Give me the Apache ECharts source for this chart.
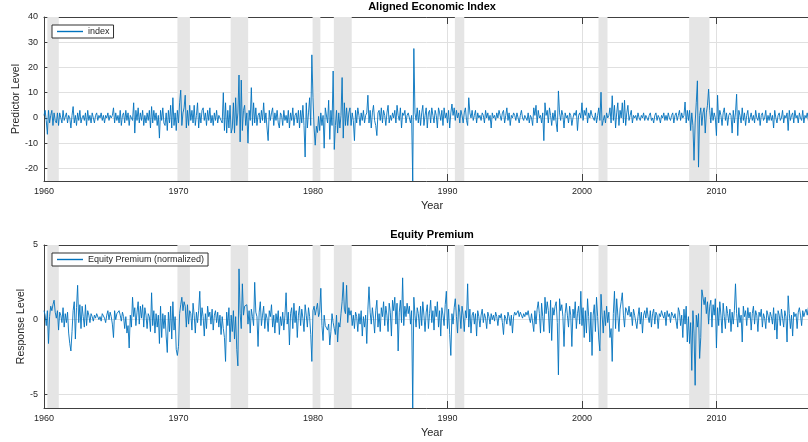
<!DOCTYPE html>
<html><head><meta charset="utf-8">
<script src="https://cdn.jsdelivr.net/npm/echarts@6/dist/echarts.min.js"></script>
<style>html,body{margin:0;padding:0;background:#fff}#c{width:808px;height:442px}</style>
</head><body><div id="c"></div>
<script>
const startYear = 1960;
// Aligned Economic Index, monthly (one row per year, Jan..Dec)
const indexValues = [
1, 3, -1, -6.5, 3, -2, 1, 3, -3, 2, -1, -2,
2, -3, 2, 0, -2, 3, -1, -1, 2, -2, 1, 0,
-4, 1, 4.5, -2, 1, -3, 2, -1, 3, -2, 0, 1,
-1, 2, -3, 3, -1, 1, -2, 2, 0, -2, 1, 2,
-1, 1, 0, 2, -1, 1, -2, 1, 0, 2, -1, 1,
0, 1, 4, -2, 2, -1, 1, -2, 3, -3, 1, 2,
-2, 3, -1, 2, -3, 1, 0, -1, 6, -6, 3, -1,
4, -2, 2, -1, 3, -3, 1, -2, 2, -1, 3, -4,
4.5, -2, 3, -1, 2, -3, 1, -8, 3, -1, 4, -2,
-3, 2, -5, 3, -2, 5, -4, 8, -3, 2, -5, 3,
-2, 6, 11, -3, 2, 4, 9, -4, 3, -3, 5, -1,
3, -2, 5, -3, 1, 6, -4, 2, -2, 3, 4, -1,
2, -3, 3, -1, 4, -2, 1, -3, 2, -1, 3, -2,
1, 0, -1, -2, 10, -5, 6, -6, 3, -4, 5, -6,
-4, 6, -6, 8, -3, 2, 17, -9.5, 15, -5, 3, 5,
-3, 2, -10, 3, -1, 12, -3, 6, -2, 4, -3, 1,
2, -2, 3, -1, 6, -2, 2, -4, -9, 3, -1, 2,
4, -3, 2, -1, 3, -2, -4, 2, 1, -3, 3, -1,
1, -2, 3, -4, 2, -1, 4, -3, 1, 2, -2, 3,
-4, 3, -2, 5, -3, -15.5, 6, -4, 2, 8, -3, 25,
8, -4, -10.8, -3.3, -5.8, 0.6, -5, 2, -3, 1, -12, 4,
4, -2, 7, -8.5, 3, -3, 18.6, -12.5, -3, 3, -6, 2,
-4, 1, 16, -8, 6, -3, 4, -3, 2, 4, -3, 2,
-1, -9, 3, -2, 4, 1, -3, 2, -1, 3, -2, 1,
2, 9, -2, 3, -4, 2, 5, -1, -3, -7, 2, 3,
-1, 4, -2, 3, 1, -3, 2, 5, -2, 1, -1, 2,
0, 3, -2, 5, 1, -1, 4, -4, 2, 1, 3, -2,
1, 2, 0, -2, 1, -25, 27.5, 2, -1, 4, -2, 3,
-3, 2, 5, -3, 1, 4, -4, 2, 3, -2, 4, 1,
-2, 3, 1, -4, 4, 2, -1, 3, -3, 4, 0, 2,
-2, 3, -4, 2, 5.5, 1, 4, -1, 3, 0, 2, -2,
3, 1, -2, 2, 4, -1, -3, 8, 2, 0, 3, -1,
1, 3, -2, 2, 0, 1, -1, 2, 1, -2, 3, 0,
2, -1, 1, -4, 2, 0, 1, -1, 2, 0, 3, 1,
-1, 2, 3, -2, 1, 4, -1, 2, -3, 1, 0, 2,
1, -1, 2, 0, -2, 1, 3, 0, -1, 1, 0, -1,
2, -2, 1, 0, -3, 4, 1, 5, -2, 3, 0, 1,
-2, 2, -9, 6, 1, 3, -2, 4, 1, -3, 2, -1,
3, -2, -5.5, 10.7, 2, -1, 3, 1, -4, 2, 0, 1,
-2, 2, 1, -3, 0, 2, 1, 3, -5, 1, 2, 0,
6, -1, 3, 1, 4, -2, 2, 0, 3, 1, 0, -1,
2, -2, 1, 4, -1, 10.2, -3, -1, 1, -2, 2, 0,
1, 4, -2, 8.8, -1, 5, -4, 2, 6, -3, 3, 0,
6, -2, 7, -3, 2, 5, -1, 1, 3, -2, 1, 0,
1, -1, 2, 0, -1, 1, 0, 2, -1, 1, 0, -1,
1, 2, -1, 0, -2, 1, 2, -1, 1, 0, -2, 1,
0, 2, -1, 1, -1, 2, 0, -1, 1, 2, -2, 1,
2, -1, 1, 3, -1, 2, 0, 1, 6.3, -2, 3, -1,
3, -5, 2, -3, -16.8, -2, 6, 14.7, -19.5, 1, 4, -3,
2, 4, -6, 2, 5, 11.4, 3, -2, 4, -1, 2, 0,
-7, 9, -2, 3, 1, -3, 2, 4, -1, 2, -3, 1,
2, 1, -6, 3, -2, 2, 9.4, -7, 3, 1, -2, 4,
-1, 2, -3, 1, 3, -2, 0, 2, -1, 1, -2, 3,
0, -1, 2, -3, 1, 2, -1, 0, 3, -2, 1, -1,
2, -1, 1, -4, 3, 0, -2, 1, 2, -1, 0, 3,
-2, 1, 0, 2, -5, 3, -1, 1, 2, -2, 3, 0,
1, -2, 2, 0, -1, 3, -2, 1, 0, 2, -1, 1
];
// Equity Premium (normalized), monthly
const equityValues = [
0.6, 0.3, -0.4, 0.6, -1.6, 0.2, 0.9, 0.6, 1.0, 1.3, 0.5, 0.1,
0.6, -0.7, 0.5, 0.3, -0.2, 0.8, -0.5, 0.4, -0.2, 0.5, -0.9, -1.6,
-2.1, -0.8, 0.6, 1.2, -1.3, 0.8, 2.3, -0.2, 1.0, -0.6, 0.9, 0.2,
-0.5, 1.0, -0.4, 0.6, 0.3, -0.2, 0.4, 0.2, -0.1, 0.3, 0.1, 0.4,
0.3, 0.0, 0.2, -0.1, 0.4, 0.5, 0.1, -0.2, 0.3, 0.6, 0.0, 0.5,
0.2, -0.3, -1.2, 0.6, 0.0, 0.4, 0.5, 0.6, 0.3, -0.1, 0.5, 0.2,
-0.6, 0.2, -0.9, -0.4, -1.9, 0.3, -0.5, 1.5, 0.2, 0.8, -0.4, 0.5,
1.2, -0.3, 0.9, 0.1, 1.0, -0.5, 0.8, 0.3, -0.6, 0.4, 0.2, -0.8,
1.8, -0.4, 0.6, -0.9, 0.4, -0.5, 0.3, -1.6, 0.9, -1.2, 0.4, -0.6,
0.3, -1.1, -2.2, 0.5, -0.8, 0.9, -1.3, 1.2, -0.7, 0.2, -2.0, -2.4,
-1.8, 0.4, 1.0, 1.5, 0.6, 1.2, 0.9, -0.5, 1.0, -0.3, 0.6, 0.4,
-0.7, 1.1, 0.3, -0.9, 0.5, -0.2, 0.6, 1.9, -0.4, 0.8, 0.2, -1.1,
0.4, -0.6, 0.9, 0.2, 0.5, -0.3, 0.7, -0.7, 0.3, 0.6, -0.2, 0.5,
-0.5, 0.3, -1.0, 0.2, -0.6, -1.2, -2.8, 0.5, -0.4, 0.8, -1.5, 0.3,
-0.8, 0.6, -1.3, 0.2, -2.0, -3.1, 3.4, 0.4, -0.6, 2.4, 0.3, 0.9,
0.8, 1.0, -0.3, 0.6, -0.9, 0.7, 0.2, -0.4, 2.5, 0.5, 0.2, -1.8,
0.5, 1.2, -0.4, 0.3, 0.9, -0.6, 0.4, 0.1, -0.8, 0.6, 0.2, 1.0,
-0.5, 0.3, -0.9, 0.4, -0.2, 0.6, -1.0, 0.2, -0.4, 0.5, -0.7, 0.3,
1.8, -0.3, 0.5, -1.7, 0.4, 0.8, -0.6, 1.1, -0.2, 0.6, -1.2, 0.3,
0.9, -0.4, 0.7, 0.1, -0.8, 1.0, 0.3, -0.5, 0.8, 0.2, -1.0, -2.8,
0.6, 0.9, 0.3, 0.7, 1.1, 0.2, 0.5, 2.1, -0.4, -1.4, 0.3, -0.4,
-0.5, -0.7, -0.3, -1.7, -0.8, 0.4, -0.2, -0.6, -1.0, 0.3, -1.5, -0.2,
-0.5, 0.4, 1.2, 2.5, 0.7, 0.4, 2.3, -0.2, 0.8, 0.3, 0.6, -0.4,
0.3, -0.6, 0.5, 0.2, -0.8, 0.4, -0.3, 0.6, -1.1, 0.2, -0.5, 0.3,
-1.6, 0.7, 2.2, 0.5, -0.3, 0.8, 0.1, -0.9, 0.6, 1.3, -0.5, 0.4,
-0.8, 0.8, 0.2, 1.2, -0.4, 0.9, 0.3, -0.8, 1.1, 0.5, -1.1, 1.3,
0.6, 1.5, -0.3, 1.1, -2.1, 0.5, 1.3, -0.2, 2.8, -0.4, 0.9, 0.2,
1.1, 0.4, 0.9, -0.3, 0.6, -5.92, 1.5, 0.3, -0.5, 0.8, 0.4, -0.6,
0.9, -0.4, 1.2, 0.3, -0.8, 0.5, 1.0, -0.6, 0.4, 1.3, -0.2, 0.6,
-0.7, 0.9, 0.2, 1.2, -0.5, 0.6, -1.1, 0.8, 0.3, -0.4, 1.0, 1.9,
-0.6, 0.7, -1.0, -2.4, 0.4, -0.3, 0.8, 1.4, 0.2, -0.9, 1.0, 0.5,
-0.6, 0.9, 0.3, -0.8, 0.6, 0.1, 2.4, -0.5, 0.7, -0.9, 0.3, 0.5,
-0.3, 0.4, -1.1, 0.6, 0.2, -0.5, 0.3, 0.7, -0.2, 0.4, 0.1, -0.6,
0.5, 0.2, -0.3, 0.4, 0.0, 0.3, -0.1, 0.5, 0.2, -0.4, 0.3, 0.1,
0.4, -0.2, -1.0, 0.3, 0.1, -0.3, 0.5, 0.2, -0.4, 0.3, -0.9, 0.2,
0.5, 0.3, 0.4, 0.6, 0.2, 0.5, 0.3, 0.1, 0.4, 0.2, 0.5, 0.3,
0.6, 0.1, -0.2, 0.4, 0.3, -0.8, 0.6, -0.3, 0.7, 1.2, 0.4, -0.9,
1.1, 0.2, -0.8, 1.5, 0.4, 1.2, 0.6, -0.9, 1.3, -1.4, 0.8, 0.3,
0.9, 1.2, -0.2, -3.7, 1.4, 0.6, 1.0, 0.2, -1.8, 0.4, 1.1, 0.3,
-0.5, 0.9, 0.3, -1.8, 0.7, 0.1, 1.2, -0.6, 0.4, 0.9, -0.3, 1.9,
-0.4, 0.8, -1.2, 0.6, -0.9, 1.4, 0.2, -1.5, 0.5, -2.4, 0.3, 1.0,
-0.8, 1.5, 0.2, -1.3, -2.1, 1.7, 0.3, -0.9, 0.6, -0.4, 0.9, -0.2,
0.5, -1.2, -0.6, -2.8, 0.4, 1.9, -0.6, 1.4, 0.3, -0.8, 0.7, 1.2,
1.8, 0.3, -0.5, 0.8, 0.6, 0.3, 0.9, 0.2, 0.5, -0.4, 0.7, 0.3,
0.4, -0.6, 0.2, 0.8, -0.3, 0.5, -0.9, 0.3, 0.6, 0.1, 0.8, 0.2,
-0.2, 0.6, -0.5, 0.4, 0.7, -0.3, 0.5, 0.3, -0.6, 0.4, 0.2, 0.6,
0.3, 0.1, 0.5, -0.4, 0.6, 0.2, 0.4, -0.2, 0.5, 0.3, 0.1, 0.4,
0.3, -0.6, 0.8, 0.5, -0.4, 0.3, -1.2, 0.7, -0.3, 0.9, -1.5, 0.2,
-1.6, -0.2, -3.4, 0.6, -0.9, -4.4, 0.3, -0.5, 0.4, -2.6, -1.2, 2.0,
2.0, 1.0, 1.5, 0.4, 1.2, -0.3, 0.9, 1.3, -0.5, 1.0, 0.3, 1.4,
-1.9, 0.8, -0.4, 1.2, 0.3, -0.9, 1.1, 0.2, -0.6, 0.9, 0.4, -0.2,
0.7, -0.8, 0.5, -0.3, 0.6, 2.4, 0.4, -0.5, 0.8, -0.2, 0.3, -1.5,
0.9, 0.2, 0.6, -0.4, 0.8, 0.1, 0.5, -0.7, 0.4, 0.9, -0.3, 0.6,
0.3, -0.8, 0.5, 0.2, 0.7, -0.5, 0.4, 0.1, -0.6, 0.6, 0.3, -0.2,
0.5, 0.2, -0.3, 0.8, -0.7, 0.4, -1.3, 0.6, 0.3, -0.4, 0.7, 0.1,
-0.5, 0.6, 0.2, -1.5, 1.6, 0.4, -0.6, 0.3, -1.1, 0.5, 0.2, 0.4,
-0.6, 0.5, 0.8, 0.3, -0.4, 0.6, 0.2, 0.5, 0.7, 0.3, 0.8, 0.5
];
// Recession bands (shaded)
const recessionStarts = [1960.25, 1969.92, 1973.88, 1979.97, 1981.55, 1990.55, 2001.23, 2007.97];
const recessionEnds   = [1961.10, 1970.85, 1975.18, 1980.55, 1982.88, 1991.25, 2001.90, 2009.48];
const xTicks = [1960, 1970, 1980, 1990, 2000, 2010];
const topYTicks = [-20, -10, 0, 10, 20, 30, 40];
const bottomYTicks = [-5, 0, 5];

const FONT = '"Liberation Sans", Arial, Helvetica, sans-serif';
const AXC = '#404040';
const TXT = '#262626';
const GRIDC = '#e0e0e0';
const LINEC = '#0072BD';
const X_MIN = 1960, X_MAX = 2017.7;

function toPairs(vals) { return vals.map((v, i) => [startYear + i / 12, v]); }
const bands = recessionStarts.map((s, i) => [{ xAxis: s }, { xAxis: recessionEnds[i] }]);
const plainNum = v => String(v);

function xBottom(g) {
  return {
    type: 'value', gridIndex: g, position: 'bottom', min: X_MIN, max: X_MAX,
    name: 'Year', nameLocation: 'middle', nameGap: 19,
    nameTextStyle: { color: TXT, fontSize: 11, fontFamily: FONT },
    axisLine: { show: true, onZero: false, lineStyle: { color: AXC, width: 1 } },
    axisTick: { show: true, inside: true, length: 7, customValues: xTicks, lineStyle: { color: AXC } },
    axisLabel: { customValues: xTicks, formatter: plainNum, color: TXT, fontSize: 9, fontFamily: FONT, margin: 6 },
    splitLine: { show: true, lineStyle: { color: GRIDC, width: 1 } }
  };
}
function xTop(g) {
  return {
    type: 'value', gridIndex: g, position: 'top', min: X_MIN, max: X_MAX,
    axisLine: { show: true, onZero: false, lineStyle: { color: AXC, width: 1 } },
    axisTick: { show: true, inside: true, length: 7, customValues: xTicks, lineStyle: { color: AXC } },
    axisLabel: { show: false },
    splitLine: { show: false }
  };
}
function yLeft(g, min, max, ticks, name, gap) {
  return {
    type: 'value', gridIndex: g, position: 'left', min: min, max: max,
    name: name, nameLocation: 'middle', nameGap: gap, nameRotate: 90, nameMoveOverlap: false,
    nameTextStyle: { color: TXT, fontSize: 10.5, fontFamily: FONT },
    axisLine: { show: true, onZero: false, lineStyle: { color: AXC, width: 1 } },
    axisTick: { show: true, inside: true, length: 7, customValues: ticks, lineStyle: { color: AXC } },
    axisLabel: { customValues: ticks, formatter: plainNum, color: TXT, fontSize: 9, fontFamily: FONT, margin: 6 },
    splitLine: { show: true, lineStyle: { color: GRIDC, width: 1 } }
  };
}
function legendAt(top, name) {
  return {
    data: [{ name: name, icon: 'path://M0,0L26,0L26,1.4L0,1.4Z', itemStyle: { color: LINEC, borderWidth: 0, opacity: 1 } }],
    left: 52, top: top, orient: 'horizontal',
    itemWidth: 26, itemHeight: 1.4, itemGap: 0,
    padding: [2, 4, 2, 5],
    borderColor: '#303030', borderWidth: 1, backgroundColor: '#fff',
    textStyle: { color: TXT, fontSize: 9, fontFamily: FONT },
    selectedMode: false
  };
}
function lineSeries(name, xi, yi, vals) {
  return {
    type: 'line', name: name, xAxisIndex: xi, yAxisIndex: yi,
    data: toPairs(vals), symbol: 'none', showSymbol: false, sampling: null,
    lineStyle: { color: LINEC, width: 0.9 }, itemStyle: { color: LINEC },
    emphasis: { disabled: true }, clip: true,
    markArea: { silent: true, label: { show: false }, itemStyle: { color: '#e5e5e5' }, data: bands }
  };
}

const chart = echarts.init(document.getElementById('c'), null, { renderer: 'canvas' });
chart.setOption({
  animation: false,
  backgroundColor: '#fff',
  title: [
    { text: 'Aligned Economic Index', left: 432, top: 1, textAlign: 'center', padding: 0,
      textStyle: { fontSize: 11, fontWeight: 'bold', color: '#000', fontFamily: FONT } },
    { text: 'Equity Premium', left: 432, top: 229, textAlign: 'center', padding: 0,
      textStyle: { fontSize: 11, fontWeight: 'bold', color: '#000', fontFamily: FONT } }
  ],
  legend: [legendAt(25, 'index'), legendAt(253, 'Equity Premium (normalized)')],
  grid: [
    { left: 44, right: -12, top: 17, height: 164, containLabel: false, outerBoundsMode: 'none' },
    { left: 44, right: -12, top: 245, height: 163, containLabel: false, outerBoundsMode: 'none' }
  ],
  xAxis: [xBottom(0), xTop(0), xBottom(1), xTop(1)],
  yAxis: [
    yLeft(0, -25, 40, topYTicks, 'Predictor Level', 22),
    yLeft(1, -5.92, 5, bottomYTicks, 'Response Level', 17)
  ],
  series: [
    lineSeries('index', 0, 0, indexValues),
    lineSeries('Equity Premium (normalized)', 2, 1, equityValues)
  ]
});
</script>
</body></html>
